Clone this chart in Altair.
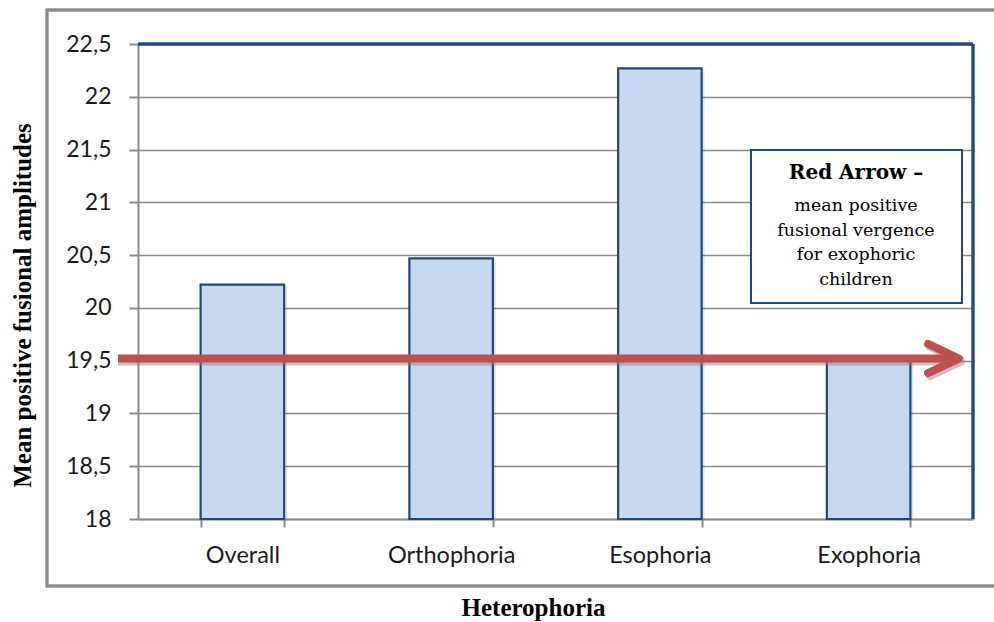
import altair as alt
import pandas as pd

# Mean positive fusional amplitudes by heterophoria group
categories = ["Overall", "Orthophoria", "Esophoria", "Exophoria"]
means = [20.22, 20.47, 22.27, 19.50]

# Reference level drawn as the red arrow (exophoric children)
arrow_value = [19.52]

y_ticks = [18, 18.5, 19, 19.5, 20, 20.5, 21, 21.5, 22, 22.5]
y_title = "Mean positive fusional amplitudes"
x_title = "Heterophoria"
note_title = ["Red Arrow –"]
note_body = ["mean positive\nfusional vergence\nfor exophoric\nchildren"]

W, H = 835, 475
BLUE = "#1f497d"
FILL = "#c6d9f1"
GRAY = "#8a8a8a"
RED = "#c0504d"
LABEL_FONT = "Lato"
SERIF = "DejaVu Serif"
TITLE_SERIF = "Liberation Serif"

bars_df = pd.DataFrame({"group": categories, "mean": means})
arrow_df = pd.DataFrame({"level": arrow_value})
title_df = pd.DataFrame({"t": note_title})
body_df = pd.DataFrame({"t": note_body})

x_enc = alt.X(
    "group:N",
    sort=categories,
    scale=alt.Scale(paddingInner=0.6, paddingOuter=0.3),
    axis=alt.Axis(
        title=x_title,
        titleFont=TITLE_SERIF, titleFontWeight="bold", titleFontSize=25, titleColor="#000",
        titleX=395, titleY=88, titleBaseline="middle", titleAlign="center",
        labelFont=LABEL_FONT, labelFontSize=23.5, labelColor="#1a1a1a",
        labelAngle=0, labelBaseline="middle", labelPadding=28,
        tickBand="extent", tickSize=8, tickColor=GRAY, tickWidth=2,
        domainColor=GRAY, domainWidth=2, grid=False,
    ),
)

y_scale = alt.Scale(domain=[18, 22.5], nice=False, zero=False)
y_enc = alt.Y(
    "mean:Q",
    scale=y_scale,
    axis=alt.Axis(
        title=y_title,
        titleFont=TITLE_SERIF, titleFontWeight="bold", titleFontSize=25, titleColor="#000",
        titleAngle=270, titleX=-116, titleY=261, titleAlign="center", titleBaseline="middle",
        values=y_ticks,
        labelExpr="replace(toString(datum.value), '.', ',')",
        labelFont=LABEL_FONT, labelFontSize=23, labelColor="#1a1a1a", labelPadding=18,
        tickSize=9, tickColor=GRAY, tickWidth=2,
        domainColor=GRAY, domainWidth=2,
        grid=True, gridColor=GRAY, gridWidth=1.6,
    ),
)

base = alt.Chart(bars_df)

shadow = base.mark_bar(color="#000000", opacity=0.1, xOffset=3, yOffset=2).encode(
    x=x_enc, y=y_enc, y2=alt.datum(18)
)
bars = base.mark_bar(fill=FILL, stroke=BLUE, strokeWidth=2.2).encode(
    x=x_enc, y=y_enc, y2=alt.datum(18)
)

# top and right frame of the plot area
frame_top = base.mark_rule(color=BLUE, strokeWidth=2.5).encode(
    x=alt.value(0), x2=alt.value(W), y=alt.value(0)
)
frame_right = base.mark_rule(color=BLUE, strokeWidth=2.5).encode(
    x=alt.value(W), y=alt.value(0), y2=alt.value(H)
)

arrow_base = alt.Chart(arrow_df)
head_shape = "M-1,-0.47L0,0L-1,0.47"
arrow_shadow = arrow_base.mark_rule(color="#7f7f7f", opacity=0.45, strokeWidth=8, yOffset=3).encode(
    y=alt.Y("level:Q", scale=y_scale), x=alt.value(-20), x2=alt.value(818)
)
head_shadow = arrow_base.mark_point(
    shape=head_shape, size=3844, filled=False, stroke="#7f7f7f", opacity=0.45,
    strokeWidth=8, strokeCap="round", strokeJoin="round", yOffset=3, xOffset=2,
).encode(y=alt.Y("level:Q", scale=y_scale), x=alt.value(821))
arrow_shaft = arrow_base.mark_rule(color=RED, strokeWidth=8).encode(
    y=alt.Y("level:Q", scale=y_scale), x=alt.value(-20), x2=alt.value(818)
)
arrow_head = arrow_base.mark_point(
    shape=head_shape, size=3844, filled=False, stroke=RED, opacity=1,
    strokeWidth=8, strokeCap="round", strokeJoin="round",
).encode(y=alt.Y("level:Q", scale=y_scale), x=alt.value(821))

# annotation box
note_box = base.mark_rect(fill="white", stroke=BLUE, strokeWidth=2).encode(
    x=alt.value(613), x2=alt.value(824), y=alt.value(106), y2=alt.value(259)
)
note_head = alt.Chart(title_df).mark_text(
    font=SERIF, fontWeight="bold", fontSize=20, align="center", baseline="alphabetic", color="#000"
).encode(x=alt.value(718), y=alt.value(135), text="t:N")
note_text = alt.Chart(body_df).mark_text(
    font=SERIF, fontSize=17.5, align="center", baseline="alphabetic", lineBreak="\n",
    lineHeight=24.5, color="#000"
).encode(x=alt.value(718), y=alt.value(167), text="t:N")

# outer chart border
outer = base.mark_rect(fill="white", fillOpacity=0, stroke=GRAY, strokeWidth=2.5).encode(
    x=alt.value(-91), x2=alt.value(870), y=alt.value(-34), y2=alt.value(542)
)

chart = (
    alt.layer(
        shadow, bars, frame_top, frame_right,
        arrow_shadow, head_shadow, arrow_shaft, arrow_head,
        note_box, note_head, note_text, outer,
    )
    .properties(
        width=W, height=H,
        autosize=alt.AutoSizeParams(type="none"),
        padding={"left": 138, "top": 44, "right": 21, "bottom": 103},
        background="white",
    )
    .configure_view(stroke=None)
)

chart.save("out.html", embed_options={"renderer": "svg", "actions": False})
